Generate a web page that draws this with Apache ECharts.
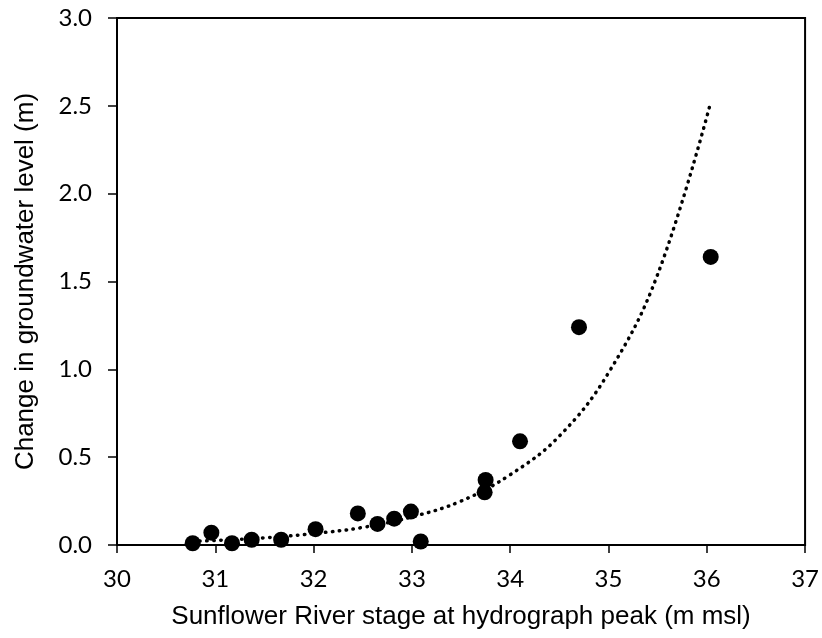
<!DOCTYPE html>
<html>
<head>
<meta charset="utf-8">
<script src="https://cdn.jsdelivr.net/npm/echarts@6/dist/echarts.min.js"></script>
<style>
  html, body { margin: 0; padding: 0; background: #fff; }
  #chart { width: 822px; height: 638px; }
</style>
</head>
<body>
<div id="chart"></div>
<script>
// observed points: river stage (m msl) vs groundwater change (m)
const stage = [30.77, 30.96, 31.17, 31.37, 31.67, 32.02, 32.45, 32.65, 32.82, 32.99, 33.09, 33.75, 33.74, 34.10, 34.70, 36.04]
const gwChange = [0.01, 0.07, 0.01, 0.03, 0.03, 0.09, 0.18, 0.12, 0.15, 0.19, 0.02, 0.37, 0.30, 0.59, 1.24, 1.64]

// dotted exponential trend line
const trendX = [30.77, 31.0, 31.5, 32.0, 32.5, 33.0, 33.5, 34.0, 34.5, 35.0, 35.5, 36.04]
const trendY = [0.021, 0.026, 0.041, 0.065, 0.10, 0.16, 0.25, 0.40, 0.62, 0.98, 1.54, 2.52]

const xTicks = [30, 31, 32, 33, 34, 35, 36, 37]
const yTicks = ['0.0', '0.5', '1.0', '1.5', '2.0', '2.5', '3.0']

const chart = echarts.init(document.getElementById('chart'))

const zip = (a, b) => a.map((v, i) => [v, b[i]])

chart.setOption({
  animation: false,
  grid: {
    left: 117,
    right: 15,
    top: 18,
    bottom: 93,
    show: true,
    borderColor: '#000',
    borderWidth: 2
  },
  xAxis: {
    type: 'value',
    min: xTicks[0],
    max: xTicks[xTicks.length - 1],
    interval: 1,
    name: 'Sunflower River stage at hydrograph peak (m msl)',
    nameLocation: 'middle',
    nameGap: 59,
    nameTextStyle: { color: '#000', fontSize: 26, fontFamily: 'Liberation Sans' },
    splitLine: { show: false },
    axisLine: { lineStyle: { color: '#000', width: 2 } },
    axisTick: { inside: false, length: 8, lineStyle: { color: '#000', width: 1.5 } },
    axisLabel: { color: '#000', fontSize: 24, fontFamily: 'Lato', margin: 22 }
  },
  yAxis: {
    type: 'value',
    min: 0,
    max: 3,
    interval: 0.5,
    name: 'Change in groundwater level (m)',
    nameLocation: 'middle',
    nameGap: 78,
    nameTextStyle: { color: '#000', fontSize: 26, fontFamily: 'Liberation Sans' },
    splitLine: { show: false },
    axisLine: { lineStyle: { color: '#000', width: 2 } },
    axisTick: { inside: false, length: 9, lineStyle: { color: '#000', width: 1.5 } },
    axisLabel: {
      color: '#000', fontSize: 24, fontFamily: 'Lato', margin: 25,
      formatter: (v) => yTicks[Math.round(v * 2)]
    }
  },
  series: [
    {
      name: 'Trend',
      type: 'line',
      data: zip(trendX, trendY),
      smooth: 0.4,
      symbol: 'none',
      lineStyle: { color: '#000', width: 3.5, type: [0.5, 6.5], cap: 'round' },
      z: 2
    },
    {
      name: 'Observed',
      type: 'scatter',
      data: zip(stage, gwChange),
      symbol: 'circle',
      symbolSize: 16,
      itemStyle: { color: '#000', opacity: 1 },
      z: 3
    }
  ]
})
</script>
</body>
</html>
